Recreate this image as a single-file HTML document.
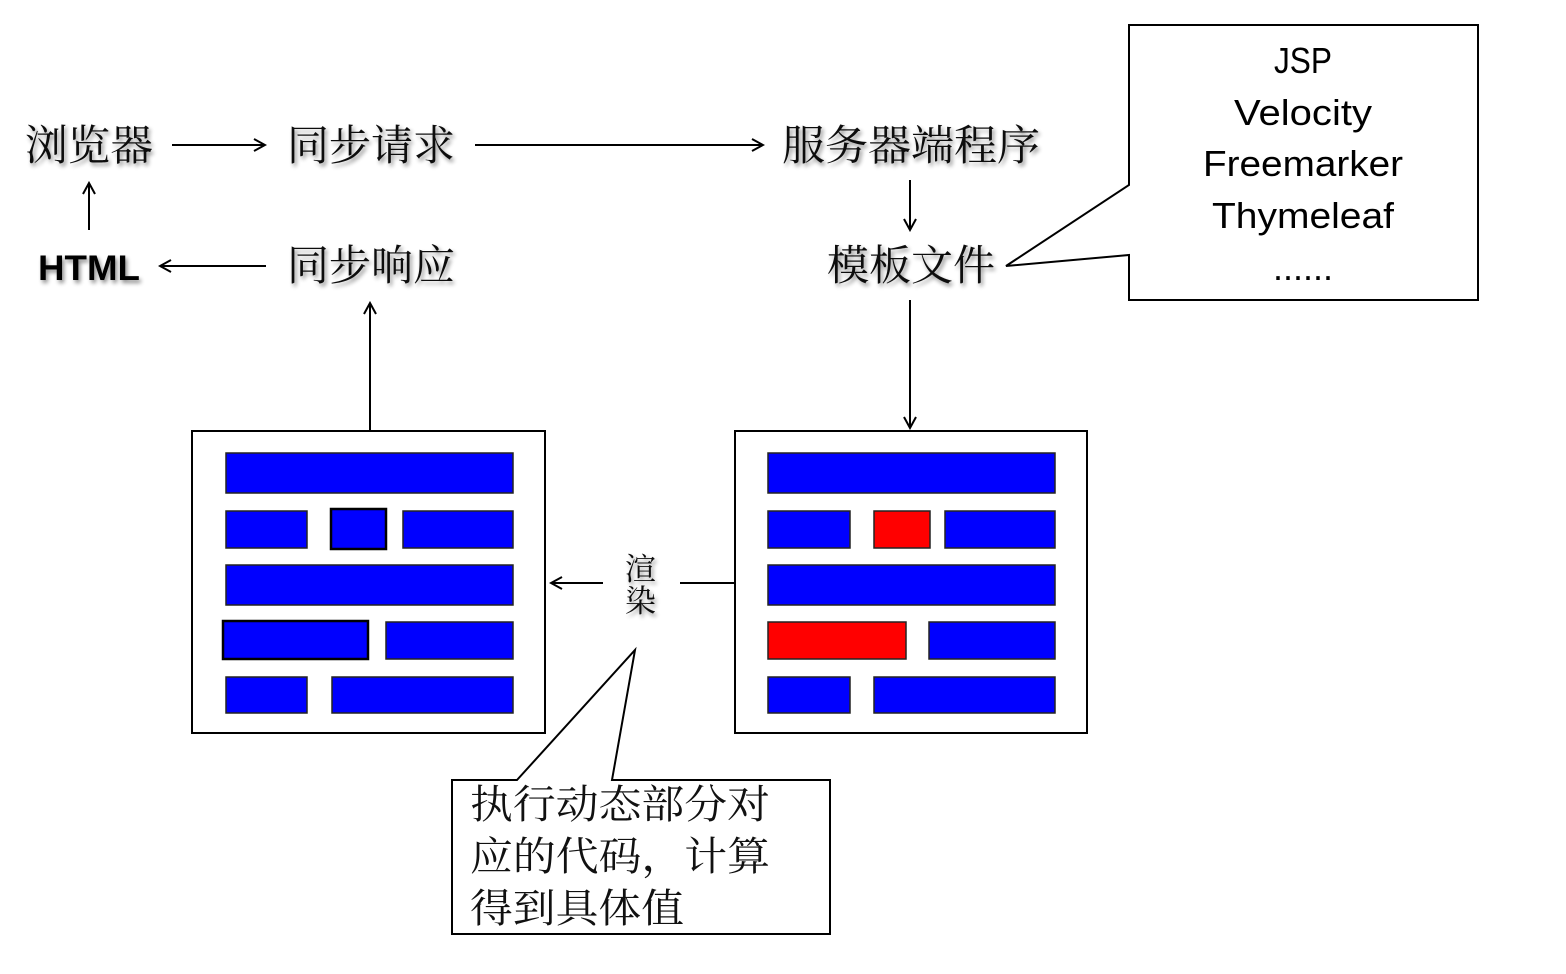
<!DOCTYPE html>
<html><head><meta charset="utf-8"><style>
html,body{margin:0;padding:0;background:#fff;}
svg{display:block;}
.cn{font-family:"Liberation Serif","Noto Serif CJK SC","Noto Sans CJK SC",serif;fill:#111;}
.sh{filter:url(#ds);}
.en{font-family:"Liberation Sans","DejaVu Sans",sans-serif;fill:#000;}
</style></head><body>
<svg width="1566" height="974" viewBox="0 0 1566 974" xmlns="http://www.w3.org/2000/svg">
<defs>
<filter id="ds" x="-10%" y="-20%" width="130%" height="150%">
<feGaussianBlur in="SourceAlpha" stdDeviation="2"/><feOffset dx="2" dy="3"/>
<feComponentTransfer><feFuncA type="linear" slope="0.45"/></feComponentTransfer>
<feMerge><feMergeNode/><feMergeNode in="SourceGraphic"/></feMerge></filter>
<marker id="ah" markerWidth="14" markerHeight="14" refX="12" refY="7" orient="auto" markerUnits="userSpaceOnUse">
<path d="M1,1 L12,7 L1,13" fill="none" stroke="#000" stroke-width="2"/></marker>
</defs>
<g stroke="#000" stroke-width="2" fill="none">
<line x1="172" y1="145" x2="265" y2="145" marker-end="url(#ah)"/>
<line x1="475" y1="145" x2="763" y2="145" marker-end="url(#ah)"/>
<line x1="910" y1="180" x2="910" y2="230" marker-end="url(#ah)"/>
<line x1="89" y1="230" x2="89" y2="183" marker-end="url(#ah)"/>
<line x1="266" y1="266" x2="160" y2="266" marker-end="url(#ah)"/>
<line x1="370" y1="430" x2="370" y2="303" marker-end="url(#ah)"/>
<line x1="910" y1="300" x2="910" y2="428" marker-end="url(#ah)"/>
<line x1="735" y1="583" x2="680" y2="583"/>
<line x1="603" y1="583" x2="551" y2="583" marker-end="url(#ah)"/>
<rect x="192" y="431" width="353" height="302"/>
<rect x="735" y="431" width="352" height="302"/>
<path d="M1129,185 L1129,25 L1478,25 L1478,300 L1129,300 L1129,255 L1006,266 Z" fill="#fff"/>
<path d="M517,780 L635,650 L612,780 L830,780 L830,934 L452,934 L452,780 Z" fill="#fff"/>
</g>
<g fill="#0000ff" stroke="#222" stroke-width="1.5">
<rect x="226" y="453" width="287" height="40"/>
<rect x="226" y="511" width="81" height="37"/>
<rect x="331" y="509" width="55" height="40" stroke="#000" stroke-width="2.5"/>
<rect x="403" y="511" width="110" height="37"/>
<rect x="226" y="565" width="287" height="40"/>
<rect x="223" y="621" width="145" height="38" stroke="#000" stroke-width="2.5"/>
<rect x="386" y="622" width="127" height="37"/>
<rect x="226" y="677" width="81" height="36"/>
<rect x="332" y="677" width="181" height="36"/>
<rect x="768" y="453" width="287" height="40"/>
<rect x="768" y="511" width="82" height="37"/>
<rect x="874" y="511" width="56" height="37" fill="#ff0000"/>
<rect x="945" y="511" width="110" height="37"/>
<rect x="768" y="565" width="287" height="40"/>
<rect x="768" y="622" width="138" height="37" fill="#ff0000"/>
<rect x="929" y="622" width="126" height="37"/>
<rect x="768" y="677" width="82" height="36"/>
<rect x="874" y="677" width="181" height="36"/>
</g>
<g class="cn sh" font-size="42">
<text x="25" y="160" textLength="128" lengthAdjust="spacingAndGlyphs">浏览器</text>
<text x="287" y="160" textLength="168" lengthAdjust="spacingAndGlyphs">同步请求</text>
<text x="782" y="160" textLength="258" lengthAdjust="spacingAndGlyphs">服务器端程序</text>
<text x="287" y="280" textLength="168" lengthAdjust="spacingAndGlyphs">同步响应</text>
<text x="827" y="280" textLength="168" lengthAdjust="spacingAndGlyphs">模板文件</text>
<text x="625" y="580" font-size="31">渲</text>
<text x="625" y="612" font-size="31">染</text>
</g>
<text class="en sh" x="38" y="280" font-size="35" font-weight="bold" textLength="102" lengthAdjust="spacingAndGlyphs">HTML</text>
<g class="en" font-size="36" text-anchor="middle">
<text x="1303" y="73" textLength="58" lengthAdjust="spacingAndGlyphs">JSP</text>
<text x="1303" y="125" textLength="138" lengthAdjust="spacingAndGlyphs">Velocity</text>
<text x="1303" y="176" textLength="200" lengthAdjust="spacingAndGlyphs">Freemarker</text>
<text x="1303" y="228" textLength="182" lengthAdjust="spacingAndGlyphs">Thymeleaf</text>
<text x="1303" y="280">......</text>
</g>
<g class="cn" font-size="40" fill="#000">
<text x="470" y="818" textLength="300" lengthAdjust="spacingAndGlyphs">执行动态部分对</text>
<text x="470" y="870" textLength="300" lengthAdjust="spacingAndGlyphs">应的代码，计算</text>
<text x="470" y="922" textLength="214" lengthAdjust="spacingAndGlyphs">得到具体值</text>
</g>
</svg>
</body></html>
